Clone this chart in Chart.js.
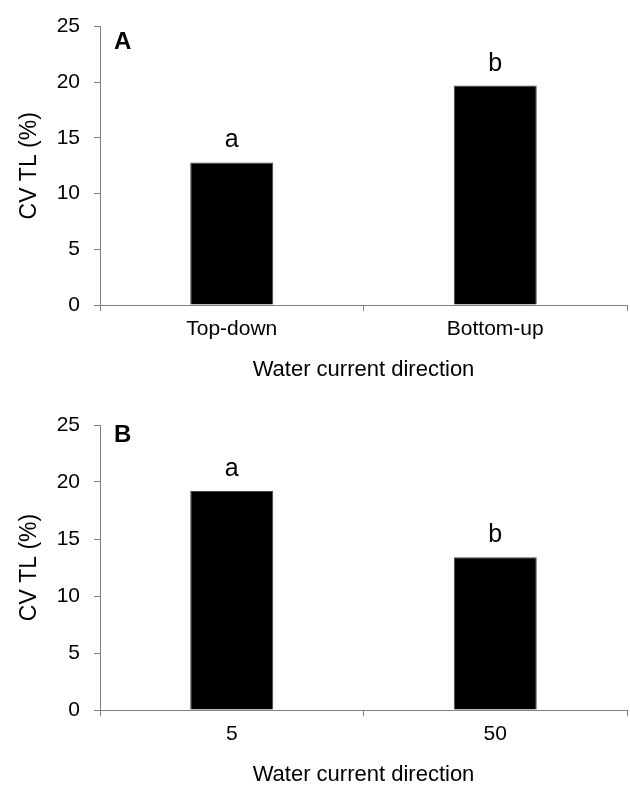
<!DOCTYPE html>
<html>
<head>
<meta charset="utf-8">
<script src="https://cdn.jsdelivr.net/npm/chart.js@4.4.1/dist/chart.umd.min.js"></script>
<style>
  html, body { margin: 0; padding: 0; background: #fff; }
  .panel { position: relative; width: 630px; }
  #wrap-a { height: 390px; }
  #wrap-b { height: 396px; }
</style>
</head>
<body>
<div class="panel" id="wrap-a"><canvas id="chart-a"></canvas></div>
<div class="panel" id="wrap-b"><canvas id="chart-b"></canvas></div>
<script>
// Datos
const categoriasA = ['Top-down', 'Bottom-up'];
const valoresA = [12.8, 19.7];
const letrasA = ['a', 'b'];

const categoriasB = ['5', '50'];
const valoresB = [19.2, 13.4];
const letrasB = ['a', 'b'];

const yMin = 0;
const yMax = 25;
const yStep = 5;

const tituloX = 'Water current direction';
const tituloY = 'CV TL (%)';

const FONT = '"Liberation Sans", Arial, Helvetica, sans-serif';
const GRIS = '#808080';
Chart.defaults.font.family = FONT;
Chart.defaults.color = '#000';

// letras de significancia sobre las barras + etiqueta del panel
const letrasPlugin = {
  id: 'letras',
  afterDatasetsDraw(chart, args, opts) {
    const ctx = chart.ctx;
    const meta = chart.getDatasetMeta(0);
    ctx.save();
    ctx.fillStyle = '#000';
    ctx.font = '25px ' + FONT;
    ctx.textAlign = 'center';
    ctx.textBaseline = 'alphabetic';
    meta.data.forEach((bar, i) => ctx.fillText(opts.letras[i], bar.x, bar.y - 15));

    ctx.font = 'bold 24px ' + FONT;
    ctx.textAlign = 'left';
    ctx.fillText(opts.panel, chart.chartArea.left + opts.panelDx, chart.chartArea.top + opts.panelDy);
    ctx.restore();
  }
};

function crearPanel(id, categorias, valores, letras, panel, padTop, padBottom, panelDy) {
  return new Chart(document.getElementById(id), {
    type: 'bar',
    data: {
      labels: categorias,
      datasets: [{
        data: valores,
        backgroundColor: '#000',
        borderColor: '#444',
        borderWidth: 1,
        barPercentage: 0.315,
        categoryPercentage: 1
      }]
    },
    options: {
      responsive: true,
      maintainAspectRatio: false,
      animation: false,
      layout: { padding: { top: padTop, bottom: padBottom, left: 0, right: 3 } },
      plugins: {
        legend: { display: false },
        tooltip: { enabled: false },
        letras: { letras: letras, panel: panel, panelDx: 14, panelDy: panelDy }
      },
      scales: {
        x: {
          grid: { display: true, offset: true, drawOnChartArea: false, drawTicks: true, tickLength: 6, color: GRIS },
          border: { color: GRIS, width: 1 },
          ticks: { padding: 6, font: { size: 21 }, color: '#000' },
          title: { display: true, text: tituloX, font: { size: 22, lineHeight: 1.0 }, padding: { top: 0, bottom: 0 }, color: '#000' },
          afterFit(scale) { scale.height = 76; }
        },
        y: {
          min: yMin,
          max: yMax,
          grid: { display: true, drawOnChartArea: false, drawTicks: true, tickLength: 6, color: GRIS },
          border: { color: GRIS, width: 1 },
          ticks: { stepSize: yStep, padding: 14, font: { size: 21 }, color: '#000' },
          title: { display: true, text: tituloY, font: { size: 23 }, padding: { top: 16, bottom: 0 }, color: '#000' },
          afterFit(scale) { scale.width = 100; }
        }
      }
    },
    plugins: [letrasPlugin]
  });
}

crearPanel('chart-a', categoriasA, valoresA, letrasA, 'A', 20, 9, 22);
crearPanel('chart-b', categoriasB, valoresB, letrasB, 'B', 35, 0, 17);
</script>
</body>
</html>
